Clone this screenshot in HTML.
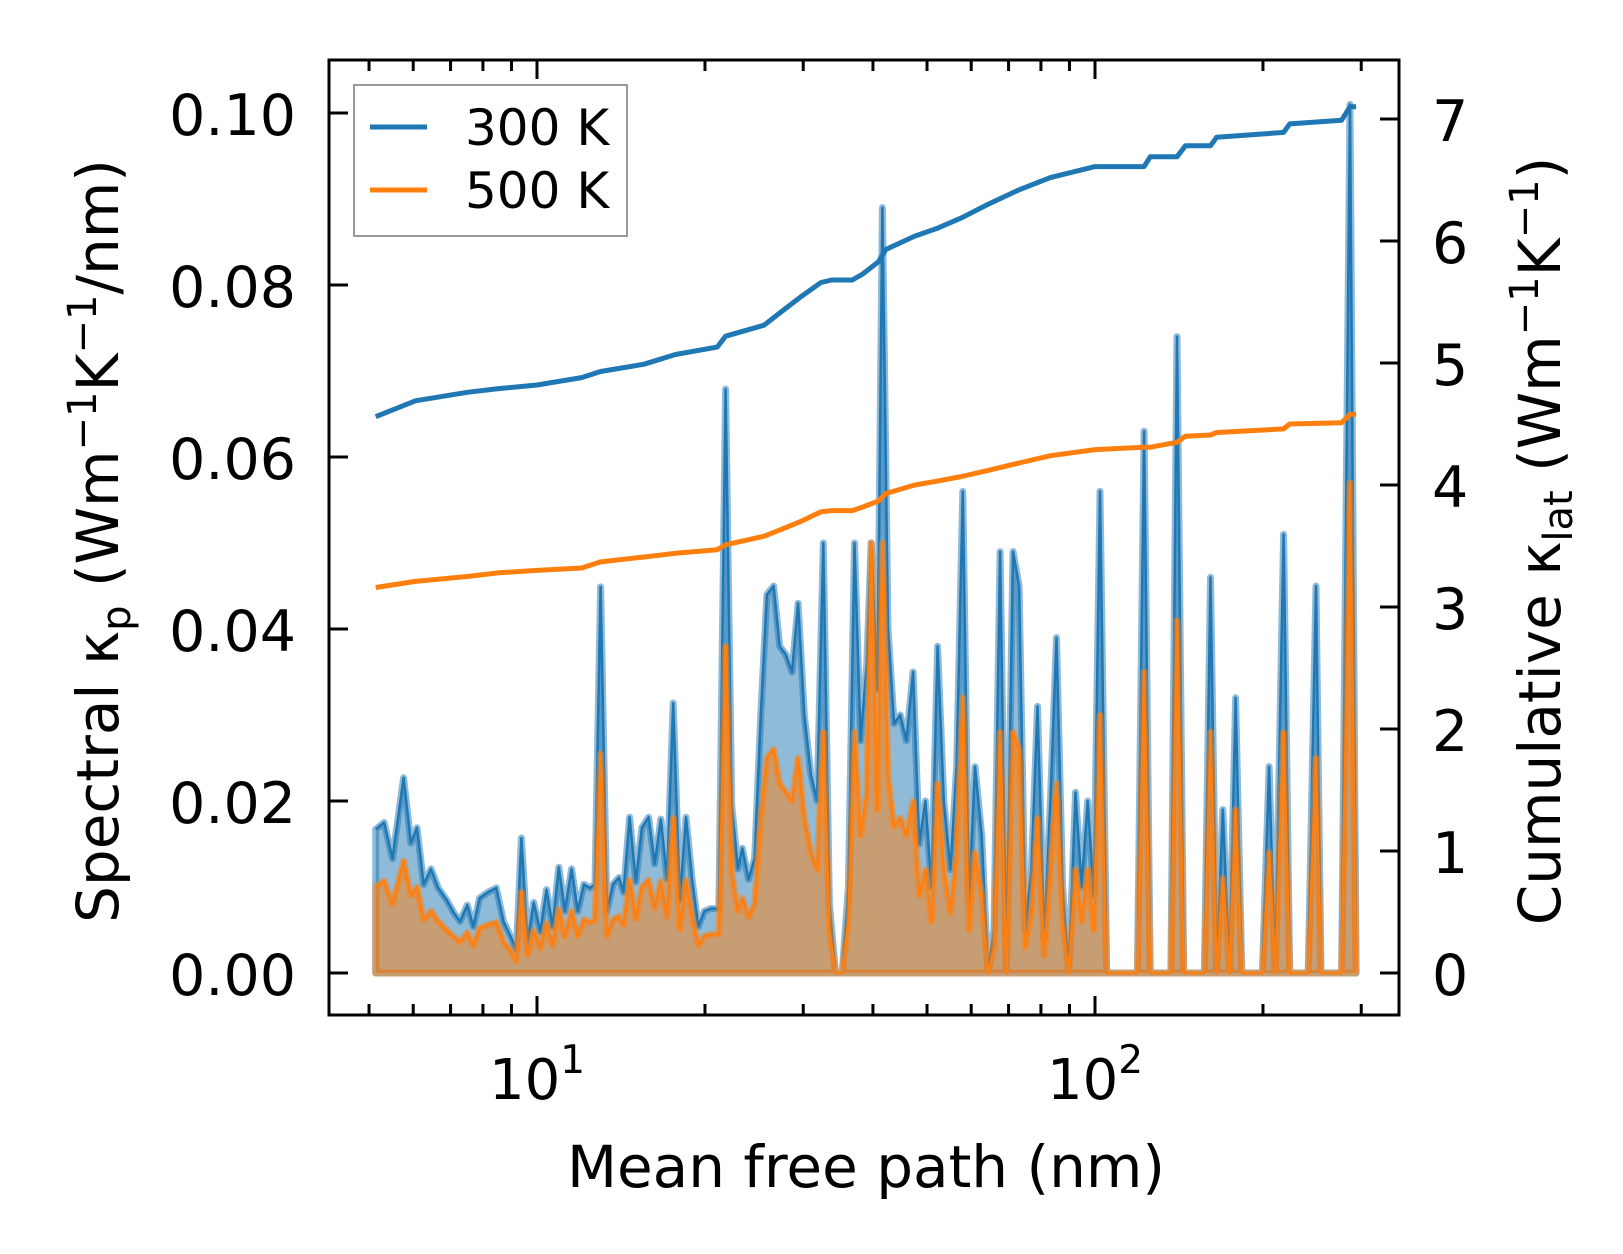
<!DOCTYPE html>
<html><head><meta charset="utf-8">
<style>
html,body{margin:0;padding:0;background:#fff;}
svg{display:block;font-family:"DejaVu Sans","Liberation Sans",sans-serif;}
</style></head>
<body>
<svg id="chart" width="1623" height="1254" viewBox="0 0 1623 1254" xmlns="http://www.w3.org/2000/svg">
<rect x="0" y="0" width="1623" height="1254" fill="#fff"/>
<g id="plot"></g>
<g id="axes"></g>
<text x="866" y="1187" font-size="58" text-anchor="middle">Mean free path (nm)</text>
<text transform="translate(118,541) rotate(-90)" font-size="58" text-anchor="middle">Spectral κ<tspan font-size="40" dy="12">p</tspan><tspan dy="-12"> (Wm</tspan><tspan font-size="40" dy="-22">−1</tspan><tspan dy="22">K</tspan><tspan font-size="40" dy="-22">−1</tspan><tspan dy="22">/nm)</tspan></text>
<text transform="translate(1560,541) rotate(-90)" font-size="58" text-anchor="middle">Cumulative κ<tspan font-size="40" dy="12">lat</tspan><tspan dy="-12"> (Wm</tspan><tspan font-size="40" dy="-22">−1</tspan><tspan dy="22">K</tspan><tspan font-size="40" dy="-22">−1</tspan><tspan dy="22">)</tspan></text>
<g>
  <rect x="354" y="85" width="273" height="151" fill="#fff" fill-opacity="0.8" stroke="#999" stroke-width="2"/>
  <line x1="370" y1="127" x2="427" y2="127" stroke="#1f77b4" stroke-width="5"/>
  <text x="465" y="145" font-size="50">300 K</text>
  <line x1="370" y1="190" x2="427" y2="190" stroke="#ff7f0e" stroke-width="5"/>
  <text x="465" y="208" font-size="50">500 K</text>
</g>
</svg>
<script>
// log10 of mean free path (nm)
const logMfp = [0.711,0.726,0.741,0.761,0.774,0.785,0.797,0.810,0.823,0.838,0.851,0.862,0.875,0.886,0.897,0.912,0.927,0.940,0.953,0.963,0.972,0.983,0.994,1.006,1.017,1.028,1.039,1.050,1.062,1.073,1.084,1.095,1.104,1.114,1.125,1.136,1.147,1.155,1.166,1.177,1.188,1.200,1.211,1.222,1.233,1.244,1.256,1.267,1.278,1.289,1.300,1.312,1.326,1.338,1.349,1.360,1.368,1.379,1.390,1.401,1.412,1.424,1.435,1.446,1.457,1.468,1.479,1.491,1.502,1.513,1.524,1.535,1.547,1.558,1.569,1.580,1.591,1.599,1.610,1.619,1.629,1.640,1.651,1.662,1.674,1.685,1.696,1.707,1.718,1.729,1.741,1.752,1.763,1.774,1.785,1.797,1.808,1.819,1.830,1.841,1.853,1.864,1.875,1.886,1.897,1.909,1.920,1.931,1.942,1.953,1.965,1.976,1.987,1.998,2.009,2.021,2.050,2.076,2.088,2.099,2.136,2.147,2.159,2.196,2.207,2.218,2.229,2.241,2.252,2.263,2.300,2.312,2.323,2.338,2.349,2.382,2.396,2.405,2.442,2.457,2.468];
const spec300 = [0.0167,0.0175,0.0133,0.0227,0.0151,0.0169,0.0103,0.0121,0.0099,0.0085,0.0070,0.0060,0.0079,0.0054,0.0087,0.0094,0.0099,0.0060,0.0042,0.0027,0.0157,0.0036,0.0082,0.0048,0.0097,0.0054,0.0123,0.0072,0.0121,0.0072,0.0103,0.0099,0.0103,0.0449,0.0072,0.0103,0.0111,0.0094,0.0181,0.0106,0.0169,0.0181,0.0127,0.0179,0.0109,0.0314,0.0085,0.0181,0.0109,0.0054,0.0072,0.0075,0.0075,0.0679,0.0196,0.0121,0.0145,0.0109,0.0133,0.030,0.044,0.045,0.038,0.037,0.035,0.043,0.030,0.023,0.020,0.050,0.008,0.000,0.000,0.010,0.050,0.027,0.036,0.050,0.033,0.089,0.040,0.029,0.030,0.027,0.035,0.015,0.020,0.010,0.038,0.020,0.012,0.024,0.056,0.008,0.024,0.016,0.000,0.005,0.049,0.000,0.049,0.045,0.005,0.012,0.031,0.004,0.020,0.039,0.010,0.000,0.021,0.010,0.020,0.009,0.056,0.000,0,0,0.063,0,0,0.074,0,0,0.046,0,0.019,0,0.032,0,0,0.024,0,0.051,0,0,0.045,0,0,0.101,0];
const spec500 = [0.0100,0.0107,0.0080,0.0130,0.0090,0.0100,0.0062,0.0072,0.0060,0.0050,0.0042,0.0036,0.0047,0.0032,0.0052,0.0056,0.0059,0.0036,0.0025,0.0014,0.0094,0.0021,0.0049,0.0029,0.0058,0.0032,0.0074,0.0043,0.0072,0.0043,0.0062,0.0059,0.0062,0.0255,0.0043,0.0062,0.0066,0.0056,0.0108,0.0063,0.0100,0.0108,0.0076,0.0107,0.0065,0.0180,0.0051,0.0108,0.0065,0.0032,0.0043,0.0045,0.0045,0.0380,0.0117,0.0072,0.0087,0.0065,0.0080,0.018,0.025,0.026,0.022,0.021,0.020,0.025,0.018,0.014,0.012,0.028,0.005,0.000,0.000,0.006,0.028,0.016,0.021,0.050,0.019,0.050,0.023,0.017,0.018,0.016,0.020,0.009,0.012,0.006,0.022,0.012,0.007,0.014,0.032,0.005,0.014,0.009,0.000,0.003,0.028,0.000,0.028,0.026,0.003,0.007,0.018,0.002,0.012,0.022,0.006,0.000,0.012,0.006,0.012,0.005,0.030,0.000,0,0,0.035,0,0,0.041,0,0,0.028,0,0.011,0,0.019,0,0,0.014,0,0.028,0,0,0.025,0,0,0.057,0];
// cumulative kappa (right axis)
const cumLog = [0.711,0.782,0.875,0.931,1.0,1.080,1.114,1.192,1.248,1.323,1.338,1.407,1.435,1.472,1.509,1.528,1.565,1.584,1.612,1.625,1.677,1.715,1.761,1.808,1.864,1.920,2.0,2.088,2.099,2.147,2.162,2.207,2.218,2.338,2.349,2.442,2.457,2.468];
const cum300 = [4.56,4.69,4.76,4.79,4.82,4.88,4.93,4.99,5.07,5.13,5.22,5.31,5.41,5.54,5.66,5.68,5.68,5.73,5.83,5.93,6.04,6.10,6.19,6.30,6.42,6.52,6.61,6.61,6.69,6.69,6.78,6.78,6.85,6.89,6.96,6.99,7.10,7.10];
const cum500 = [3.16,3.21,3.25,3.28,3.30,3.32,3.37,3.41,3.44,3.47,3.51,3.58,3.63,3.70,3.78,3.79,3.79,3.82,3.87,3.93,4.00,4.03,4.07,4.12,4.18,4.24,4.29,4.31,4.31,4.35,4.40,4.41,4.43,4.46,4.50,4.51,4.58,4.58];
const yTicksL = [0,0.02,0.04,0.06,0.08,0.10];
const yTickLabelsL = ["0.00","0.02","0.04","0.06","0.08","0.10"];
const yTicksR = [0,1,2,3,4,5,6,7];

const L=329,R=1399,T=60,B=1015;
const xs = l => 537 + (l-1)*558;
const yL = v => 973 - v*8600;
const yR = c => 973 - c*122;
const NS="http://www.w3.org/2000/svg";
const plot=document.getElementById('plot'), axes=document.getElementById('axes');
function mk(tag, attrs, parent){const e=document.createElementNS(NS,tag);for(const k in attrs)e.setAttribute(k,attrs[k]);parent.appendChild(e);return e;}

function drawSpec(vals, color, name){
  let top = logMfp.map((l,i)=>xs(l).toFixed(1)+','+yL(vals[i]).toFixed(1));
  const x0=xs(logMfp[0]).toFixed(1), x1=xs(logMfp[logMfp.length-1]).toFixed(1), y0=yL(0).toFixed(1);
  const poly = 'M'+x0+','+y0+' L'+top.join(' L')+' L'+x1+','+y0+' Z';
  const f=mk('path',{d:poly,fill:color,'fill-opacity':0.5,stroke:color,'stroke-opacity':0.5,'stroke-width':7,'stroke-linejoin':'round'},plot);
  
  
  const l=mk('polyline',{points:top.join(' '),fill:'none',stroke:color,'stroke-width':2.5,'stroke-linejoin':'round'},plot);
  
  
}
drawSpec(spec300,'#1f77b4','spectral-300k');
drawSpec(spec500,'#ff7f0e','spectral-500k');

function drawCum(vals,color,name){
  const pts=cumLog.map((l,i)=>xs(l).toFixed(1)+','+yR(vals[i]).toFixed(1)).join(' ');
  const p=mk('polyline',{points:pts,fill:'none',stroke:color,'stroke-width':5,'stroke-linejoin':'round'},plot);
  
  
}
drawCum(cum300,'#1f77b4','cumulative-300k');
drawCum(cum500,'#ff7f0e','cumulative-500k');

const fr=mk('rect',{x:L,y:T,width:R-L,height:B-T,fill:'none',stroke:'#000','stroke-width':3},axes);



for(let d=0; d<=2; d++){
  for(let m=1;m<=9;m++){
    const v=Math.pow(10,d)*m; const l=Math.log10(v);
    if(l<0.69||l>2.48) continue;
    const x=xs(l), len=(m===1)?19:11;
    const t1=mk('line',{x1:x,y1:B,x2:x,y2:B-len,stroke:'#000','stroke-width':3},axes);
    
    
    const t2=mk('line',{x1:x,y1:T,x2:x,y2:T+len,stroke:'#000','stroke-width':3},axes);
    
    
  }
}
[1,2].forEach(p=>{
  const t=mk('text',{x:xs(p),y:1099,'font-size':56,'text-anchor':'middle',fill:'#000'},axes);
  t.textContent='10';
  const s=mk('tspan',{dy:-26,'font-size':39},t); s.textContent=String(p);
  
  
});
yTicksL.forEach((v,i)=>{
  const y=yL(v);
  const tl=mk('line',{x1:L,y1:y,x2:L+19,y2:y,stroke:'#000','stroke-width':3},axes);
  
  
  const t=mk('text',{x:296,y:y+22,'font-size':57,'text-anchor':'end',fill:'#000'},axes);
  t.textContent=yTickLabelsL[i];
  
  
});
yTicksR.forEach(v=>{
  const y=yR(v);
  const tl=mk('line',{x1:R,y1:y,x2:R-19,y2:y,stroke:'#000','stroke-width':3},axes);
  
  
  const t=mk('text',{x:1432,y:y+22,'font-size':57,'text-anchor':'start',fill:'#000'},axes);
  t.textContent=String(v);
  
  
});
</script>
</body></html>
